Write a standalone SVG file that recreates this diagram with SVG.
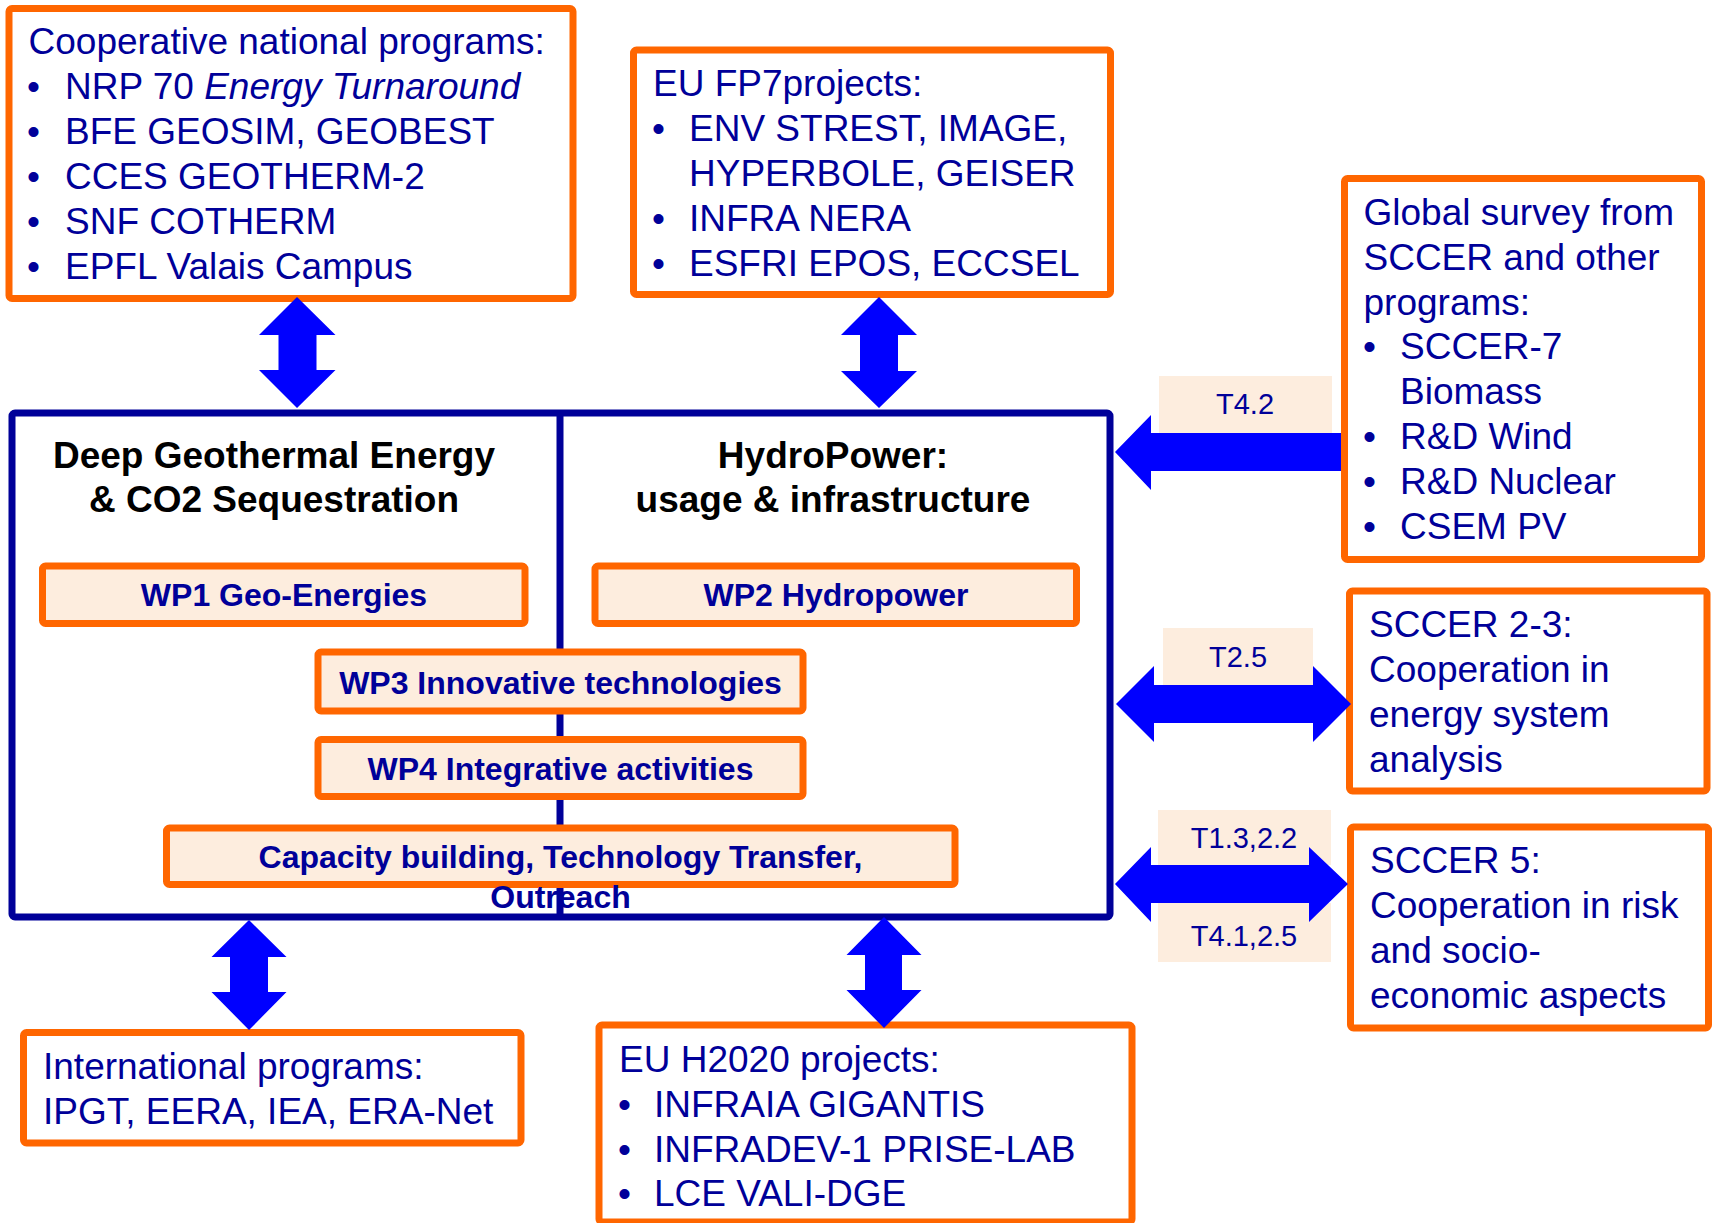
<svg xmlns="http://www.w3.org/2000/svg" width="1719" height="1223" viewBox="0 0 1719 1223">
<style>
.ob{fill:#ffffff;stroke:#FF6600;stroke-width:7;}
.wp{fill:#FDEDDE;stroke:#FF6600;stroke-width:7;}
.lbl{fill:#FDEDDE;stroke:none;}
.arr{fill:#0000FF;stroke:none;}
.t{font-family:"Liberation Sans",Arial,sans-serif;font-size:37px;fill:#000099;}
.tb{font-family:"Liberation Sans",Arial,sans-serif;font-size:32px;font-weight:bold;fill:#000099;text-anchor:middle;}
.tt{font-family:"Liberation Sans",Arial,sans-serif;font-size:37px;font-weight:bold;fill:#000000;text-anchor:middle;}
.tl{font-family:"Liberation Sans",Arial,sans-serif;font-size:29px;fill:#000099;text-anchor:middle;}
</style>
<rect width="1719" height="1223" fill="#ffffff"/>

<g id="main-box">
<rect x="12" y="413" width="1098" height="504" rx="3" fill="#ffffff" stroke="#000099" stroke-width="7"/>
<line x1="560" y1="413" x2="560" y2="917" stroke="#000099" stroke-width="7"/>
<text class="tt" x="274" y="468">Deep Geothermal Energy</text>
<text class="tt" x="274" y="512">&amp; CO2 Sequestration</text>
<text class="tt" x="833" y="468">HydroPower:</text>
<text class="tt" x="833" y="512">usage &amp; infrastructure</text>
</g>

<g id="wp1">
<rect class="wp" x="42.5" y="566" width="482.5" height="57.5" rx="3"/>
<text class="tb" x="284" y="606">WP1 Geo-Energies</text>
</g>
<g id="wp2">
<rect class="wp" x="595" y="566" width="481.5" height="57.5" rx="3"/>
<text class="tb" x="836" y="606">WP2 Hydropower</text>
</g>
<g id="wp3">
<rect class="wp" x="318" y="652" width="485" height="59" rx="3"/>
<text class="tb" x="560.5" y="694">WP3 Innovative technologies</text>
</g>
<g id="wp4">
<rect class="wp" x="318" y="739.5" width="485" height="57" rx="3"/>
<text class="tb" x="560.5" y="780">WP4 Integrative activities</text>
</g>
<g id="capacity">
<rect class="wp" x="166.5" y="828" width="788.5" height="56.5" rx="3"/>
<text class="tb" x="560.5" y="868">Capacity building, Technology Transfer,</text>
<text class="tb" x="560.5" y="908">Outreach</text>
</g>

<g id="national">
<rect class="ob" x="9" y="8.5" width="564" height="290" rx="3"/>
<text class="t" x="28.5" y="54">Cooperative national programs:</text>
<text class="t" x="27" y="99">•</text><text class="t" x="65" y="99">NRP 70 <tspan font-style="italic">Energy Turnaround</tspan></text>
<text class="t" x="27" y="144">•</text><text class="t" x="65" y="144">BFE GEOSIM, GEOBEST</text>
<text class="t" x="27" y="189">•</text><text class="t" x="65" y="189">CCES GEOTHERM-2</text>
<text class="t" x="27" y="234">•</text><text class="t" x="65" y="234">SNF COTHERM</text>
<text class="t" x="27" y="279">•</text><text class="t" x="65" y="279">EPFL Valais Campus</text>
</g>

<g id="fp7">
<rect class="ob" x="633.5" y="50" width="477" height="244.5" rx="3"/>
<text class="t" x="653" y="96">EU FP7projects:</text>
<text class="t" x="652" y="141">•</text><text class="t" x="689" y="141">ENV STREST, IMAGE,</text>
<text class="t" x="689" y="186">HYPERBOLE, GEISER</text>
<text class="t" x="652" y="231">•</text><text class="t" x="689" y="231">INFRA NERA</text>
<text class="t" x="652" y="276">•</text><text class="t" x="689" y="276">ESFRI EPOS, ECCSEL</text>
</g>

<g id="global">
<rect class="ob" x="1344.5" y="178.5" width="357" height="381" rx="3"/>
<text class="t" x="1363.5" y="225">Global survey from</text>
<text class="t" x="1363.5" y="270">SCCER and other</text>
<text class="t" x="1363.5" y="315">programs:</text>
<text class="t" x="1363" y="359">•</text><text class="t" x="1400" y="359">SCCER-7</text>
<text class="t" x="1400" y="404">Biomass</text>
<text class="t" x="1363" y="449">•</text><text class="t" x="1400" y="449">R&amp;D Wind</text>
<text class="t" x="1363" y="494">•</text><text class="t" x="1400" y="494">R&amp;D Nuclear</text>
<text class="t" x="1363" y="539">•</text><text class="t" x="1400" y="539">CSEM PV</text>
</g>

<g id="sccer23">
<rect class="ob" x="1349.5" y="591" width="357.5" height="200" rx="3"/>
<text class="t" x="1369" y="637">SCCER 2-3:</text>
<text class="t" x="1369" y="682">Cooperation in</text>
<text class="t" x="1369" y="727">energy system</text>
<text class="t" x="1369" y="772">analysis</text>
</g>

<g id="sccer5">
<rect class="ob" x="1350.5" y="827" width="358" height="201" rx="3"/>
<text class="t" x="1370" y="873">SCCER 5:</text>
<text class="t" x="1370" y="918">Cooperation in risk</text>
<text class="t" x="1370" y="963">and socio-</text>
<text class="t" x="1370" y="1008">economic aspects</text>
</g>

<g id="international">
<rect class="ob" x="23.5" y="1032.5" width="497.5" height="110.5" rx="3"/>
<text class="t" x="43" y="1079">International programs:</text>
<text class="t" x="43" y="1124">IPGT, EERA, IEA, ERA-Net</text>
</g>

<g id="h2020">
<rect class="ob" x="599" y="1025" width="533" height="197" rx="3"/>
<text class="t" x="619" y="1072">EU H2020 projects:</text>
<text class="t" x="618" y="1117">•</text><text class="t" x="654" y="1117">INFRAIA GIGANTIS</text>
<text class="t" x="618" y="1162">•</text><text class="t" x="654" y="1162">INFRADEV-1 PRISE-LAB</text>
<text class="t" x="618" y="1206">•</text><text class="t" x="654" y="1206">LCE VALI-DGE</text>
</g>

<g id="connectors">
<rect class="lbl" x="1159" y="376" width="173" height="57"/>
<rect class="lbl" x="1163" y="628" width="150" height="57"/>
<rect class="lbl" x="1158" y="810" width="173" height="55"/>
<rect class="lbl" x="1158" y="903" width="173" height="59"/>
<polygon class="arr" points="297,297 335.5,335 316.5,335 316.5,370 335.5,370 297,408 259,370 278.5,370 278.5,335 259,335"/>
<polygon class="arr" points="879,297 917,335 898,335 898,371 917,371 879,408 841,371 860,371 860,335 841,335"/>
<polygon class="arr" points="249,920 286.5,957 268,957 268,992 286.5,992 249,1030 211.5,992 230,992 230,957 211.5,957"/>
<polygon class="arr" points="884,917 921.5,955 902,955 902,990 921.5,990 884,1028 846.5,990 865,990 865,955 846.5,955"/>
<polygon class="arr" points="1115,452 1151,415 1151,433 1341,433 1341,471 1151,471 1151,490"/>
<polygon class="arr" points="1116,704 1154,666 1154,685 1313,685 1313,666 1351,704 1313,742 1313,723 1154,723 1154,742"/>
<polygon class="arr" points="1115,884 1151,847 1151,865 1309,865 1309,847 1348,884 1309,922 1309,903 1151,903 1151,922"/>
<text class="tl" x="1245" y="414">T4.2</text>
<text class="tl" x="1238" y="667">T2.5</text>
<text class="tl" x="1244" y="848">T1.3,2.2</text>
<text class="tl" x="1244" y="946">T4.1,2.5</text>
</g>
</svg>
